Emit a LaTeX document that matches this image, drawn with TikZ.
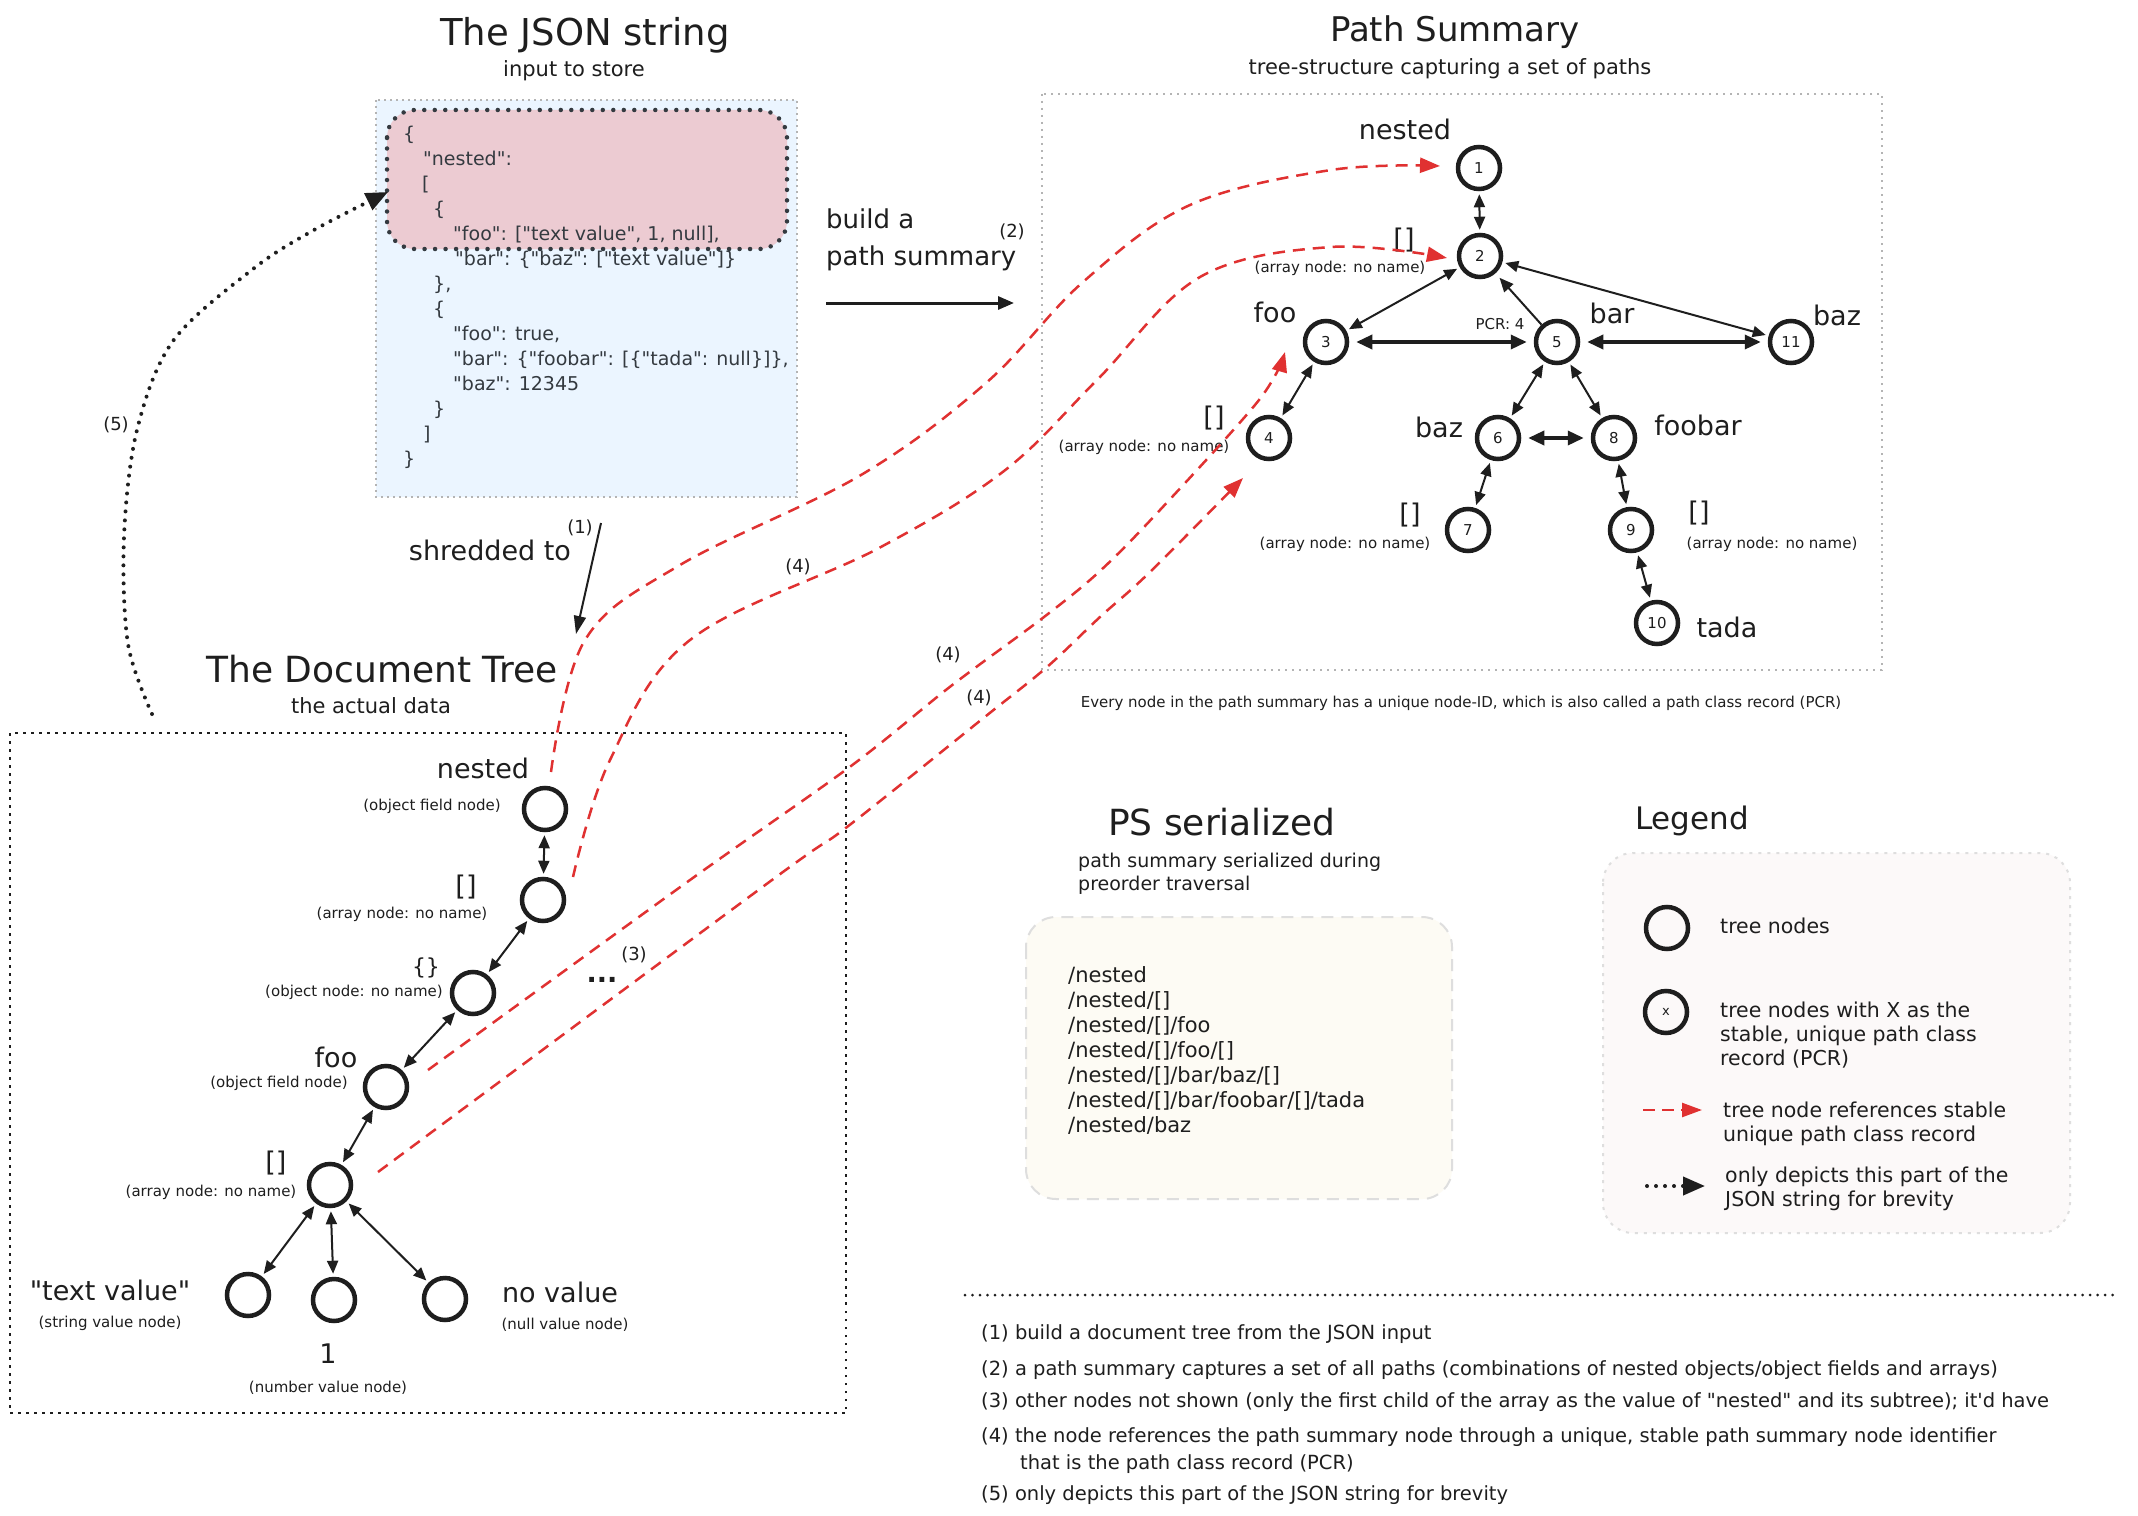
\documentclass[tikz,border=0pt]{standalone}
\usepackage{fontspec}
\setmainfont{DejaVu Sans}[Ligatures=TeXOff]
\usetikzlibrary{arrows.meta}
\definecolor{ink}{HTML}{1E1E1E}
\definecolor{jsonbg}{HTML}{EBF5FF}
\definecolor{pinkbg}{HTML}{ECCBD2}
\definecolor{slate}{HTML}{343A40}
\definecolor{boxgrey}{HTML}{B4B4B4}
\definecolor{refred}{HTML}{E03131}
\definecolor{creambg}{HTML}{FDFBF4}
\definecolor{legbg}{HTML}{FCF9F9}
\definecolor{lightline}{HTML}{DEDEDE}
\newcommand\fsz[2]{\fontsize{#1bp}{#2bp}\selectfont}
\tikzset{
  tn/.style={circle, draw=ink, line width=4.5bp, minimum size=42bp, inner sep=0pt, font=\fsz{15}{18}, text=ink},
  txt/.style={inner sep=0pt, text=ink},
  ttl/.style={txt, anchor=base, font=\fsz{36}{42}},
  subt/.style={txt, anchor=base, font=\fsz{21}{25}},
  biglbl/.style={txt, anchor=base, font=\fsz{27}{32}},
  brk/.style={txt, font=\fsz{27}{32}},
  smlbl/.style={txt, font=\fsz{15}{18}},
  reflbl/.style={txt, font=\fsz{18}{22}},
  tre/.style={draw=ink, line width=2bp, {Triangle[length=13bp,width=11bp]}-{Triangle[length=13bp,width=11bp]}, shorten <=3bp, shorten >=3bp},
  treT/.style={draw=ink, line width=3.5bp, {Triangle[length=16bp,width=14bp]}-{Triangle[length=16bp,width=14bp]}, shorten <=7bp, shorten >=7bp},
  onehead/.style={draw=ink, line width=2bp, -{Triangle[length=14bp,width=12bp]}},
  redref/.style={draw=refred, line width=2.5bp, dash pattern=on 12bp off 8bp, -{Triangle[length=20bp,width=15bp]}},
  dotref/.style={draw=ink, line width=4bp, line cap=round, dash pattern=on 0bp off 9bp, -{Triangle[length=22bp,width=18bp]}},
}
\begin{document}
\begin{tikzpicture}[x=1bp, y=-1bp]
\fill[white] (0,0) rectangle (2138,1516);
\useasboundingbox (0,0) rectangle (2138,1516);

% ---------------- boxes
\draw[draw=boxgrey, line width=1.5bp, dash pattern=on 2bp off 4bp, fill=jsonbg] (376,100) rectangle (797,497);
\draw[fill=pinkbg, draw=slate, line width=4.5bp, line cap=round, dash pattern=on 0bp off 10.5bp, rounded corners=28bp] (387,110) rectangle (787,249);
\draw[boxgrey, line width=2bp, dash pattern=on 2bp off 5bp] (1042,94) rectangle (1882,670);
\draw[ink, line width=2.5bp, dash pattern=on 2.5bp off 5.5bp] (10,733) rectangle (846,1413);
\draw[fill=creambg, draw=lightline, line width=2bp, dash pattern=on 12bp off 8bp, rounded corners=30bp] (1026,917) rectangle (1452,1199);
\draw[fill=legbg, draw=lightline, line width=2bp, dash pattern=on 3bp off 6bp, rounded corners=30bp] (1603,853) rectangle (2070,1233);
\draw[ink, line width=3bp, line cap=round, dash pattern=on 0bp off 7.5bp] (965,1295) -- (2120,1295);

% ---------------- titles
\node[ttl, font=\fsz{37}{42}] (tjson) at (585,46) {The JSON string};
\node[subt] (sjson) at (574,77) {input to store};
\node[ttl, font=\fsz{34}{40}] (tps) at (1455,42) {Path Summary};
\node[subt] (sps) at (1450,75) {tree-structure capturing a set of paths};
\node[ttl] (tdoc) at (382,682) {The Document Tree};
\node[subt] (sdoc) at (371,713) {the actual data};
\node[ttl] (tser) at (1222,835) {PS serialized};
\node[txt, anchor=north west, align=left, font=\fsz{19}{23}] (sser) at (1078,853) {path summary serialized during\\preorder traversal};
\node[ttl, font=\fsz{31}{36}] (tleg) at (1692,829) {Legend};

% ---------------- JSON text
\node[txt, anchor=north west, align=left, font=\fsz{19}{25}, text=slate] (jsontxt) at (403,125.5) {\{\\
\hspace*{20bp}"nested":\\
\hspace*{19bp}[\\
\hspace*{30bp}\{\\
\hspace*{50bp}"foo": ["text value", 1, null],\\
\hspace*{52bp}"bar": \{"baz": ["text value"]\}\\
\hspace*{30bp}\},\\
\hspace*{30bp}\{\\
\hspace*{50bp}"foo": true,\\
\hspace*{50bp}"bar": \{"foobar": [\{"tada": null\}]\},\\
\hspace*{50bp}"baz": 12345\\
\hspace*{30bp}\}\\
\hspace*{20bp}]\\
\}};

% ---------------- build / shred arrows
\node[txt, anchor=north west, align=left, font=\fsz{26}{37}] (bps) at (826,209) {build a\\path summary};
\node[reflbl] (n2lbl) at (1012,232) {(2)};
\coordinate (ba1) at (826,303);
\coordinate (ba2) at (1014,303);
\draw[draw=ink, line width=3bp, -{Triangle[length=16bp,width=13bp]}] (ba1) -- (ba2);
\node[biglbl] (shred) at (490,560) {shredded to};
\node[reflbl] (n1lbl) at (580,528) {(1)};
\coordinate (sa1) at (601,523);
\coordinate (sa2) at (576,634);
\draw[draw=ink, line width=2bp, -{Triangle[length=18bp,width=12bp]}] (sa1) -- (sa2);

% ---------------- path summary nodes
\node[tn] (ps1) at (1479,168) {1};
\node[tn] (ps2) at (1480,256) {2};
\node[tn] (ps3) at (1326,342) {3};
\node[tn] (ps4) at (1269,438) {4};
\node[tn] (ps5) at (1557,342) {5};
\node[tn] (ps6) at (1498,438) {6};
\node[tn] (ps7) at (1468,530) {7};
\node[tn] (ps8) at (1614,438) {8};
\node[tn] (ps9) at (1631,530) {9};
\node[tn] (ps10) at (1657,623) {10};
\node[tn] (ps11) at (1791,342) {11};

\node[biglbl] (lnested) at (1405,140) {nested};
\node[brk] (l2b) at (1404,240) {[]};
\node[smlbl] (l2a) at (1340,268) {(array node: no name)};
\node[biglbl] (lfoo) at (1275,322) {foo};
\node[smlbl] (lpcr) at (1500,324) {PCR: 4};
\node[biglbl] (lbar) at (1612,323) {bar};
\node[biglbl] (lbaz11) at (1837,325) {baz};
\node[brk] (l4b) at (1214,418) {[]};
\node[smlbl] (l4a) at (1144,447) {(array node: no name)};
\node[biglbl] (lbaz6) at (1439,437) {baz};
\node[biglbl] (lfoobar) at (1698,435) {foobar};
\node[brk] (l7b) at (1410,515) {[]};
\node[smlbl] (l7a) at (1345,544) {(array node: no name)};
\node[brk] (l9b) at (1699,513) {[]};
\node[smlbl] (l9a) at (1772,544) {(array node: no name)};
\node[biglbl] (ltada) at (1727,637) {tada};
\node[smlbl] (pcrnote) at (1461,703) {Every node in the path summary has a unique node-ID, which is also called a path class record (PCR)};

\draw[tre] (ps1) -- (ps2);
\draw[tre] (ps2) -- (ps3);
\draw[treT] (ps3) -- (ps5);
\draw[onehead, shorten >=6bp] (ps5) -- (ps2);
\draw[tre] (ps2) -- (ps11);
\draw[treT] (ps5) -- (ps11);
\draw[tre] (ps3) -- (ps4);
\draw[tre] (ps5) -- (ps6);
\draw[tre] (ps5) -- (ps8);
\draw[treT] (ps6) -- (ps8);
\draw[tre] (ps6) -- (ps7);
\draw[tre] (ps8) -- (ps9);
\draw[tre] (ps9) -- (ps10);

% ---------------- document tree
\node[tn] (dnest) at (545,809) {};
\node[tn] (darr) at (543,900) {};
\node[tn] (dobj) at (473,993) {};
\node[tn] (dfoo) at (386,1087) {};
\node[tn] (darr2) at (330,1185) {};
\node[tn] (dstr) at (248,1295) {};
\node[tn] (dnum) at (334,1300) {};
\node[tn] (dnull) at (445,1299) {};

\node[biglbl] (ldnest) at (483,778) {nested};
\node[smlbl] (ldnesta) at (432,806) {(object field node)};
\node[brk] (ldarrb) at (466,887) {[]};
\node[smlbl] (ldarra) at (402,914) {(array node: no name)};
\node[txt, font=\fsz{22}{26}] (ldobjb) at (426,968) {\{\}};
\node[smlbl] (ldobja) at (354,992) {(object node: no name)};
\node[biglbl] (ldfoo) at (336,1067) {foo};
\node[smlbl] (ldfooa) at (279,1083) {(object field node)};
\node[brk] (ldarr2b) at (276,1163) {[]};
\node[smlbl] (ldarr2a) at (211,1192) {(array node: no name)};
\node[biglbl] (ldstr) at (110,1300) {"text value"};
\node[smlbl] (ldstra) at (110,1323) {(string value node)};
\node[biglbl] (ldnum) at (328,1363) {1};
\node[smlbl] (ldnuma) at (328,1388) {(number value node)};
\node[biglbl] (ldnull) at (560,1302) {no value};
\node[smlbl] (ldnulla) at (565,1325) {(null value node)};
\node[txt, anchor=base, font=\bfseries\fsz{27}{32}] (ldots) at (602,982) {...};
\node[reflbl] (l3) at (634,955) {(3)};

\draw[tre] (dnest) -- (darr);
\draw[tre] (darr) -- (dobj);
\draw[tre] (dobj) -- (dfoo);
\draw[tre] (dfoo) -- (darr2);
\draw[tre] (darr2) -- (dstr);
\draw[tre] (darr2) -- (dnum);
\draw[tre] (darr2) -- (dnull);

% ---------------- references (4)
\coordinate (r1s) at (551,772);
\coordinate (r1e) at (1440,166);
\coordinate (r2s) at (573,877);
\coordinate (r2e) at (1447,258);
\coordinate (r3s) at (428,1070);
\coordinate (r3e) at (1285,352);
\coordinate (r4s) at (378,1172);
\coordinate (r4e) at (1243,478);
\draw[redref] plot[smooth, tension=0.6] coordinates {(r1s) (585,640) (680,565) (861,475) (986,383) (1083,282) (1190,205) (1331,170) (r1e)};
\draw[redref] plot[smooth, tension=0.6] coordinates {(r2s) (610,760) (690,640) (879,548) (1004,471) (1097,380) (1200,277) (1331,247) (r2e)};
\draw[redref] plot[smooth, tension=0.55] coordinates {(r3s) (690,880) (851,766) (951,686) (1044,617) (1100,571) (1160,510) (1259,400) (r3e)};
\draw[redref] plot[smooth, tension=0.55] coordinates {(r4s) (772,880) (847,827) (986,716) (1047,667) (1100,617) (1150,572) (r4e)};
\node[reflbl] (l4n1) at (798,567) {(4)};
\node[reflbl] (l4n2) at (948,655) {(4)};
\node[reflbl] (l4n3) at (979,698) {(4)};

% ---------------- reference (5)
\coordinate (r5s) at (152,714);
\coordinate (r5e) at (388,192);
\draw[dotref] plot[smooth, tension=0.55] coordinates {(r5s) (128,644) (124,537) (137,430) (173,341) (253,269) (314,230) (r5e)};
\node[reflbl] (l5) at (116,425) {(5)};

% ---------------- PS serialized list
\node[txt, anchor=north west, align=left, font=\fsz{21}{25}] (serlist) at (1068,966) {/nested\\/nested/[]\\/nested/[]/foo\\/nested/[]/foo/[]\\/nested/[]/bar/baz/[]\\/nested/[]/bar/foobar/[]/tada\\/nested/baz};

% ---------------- legend
\node[tn] (lg1) at (1667,928) {};
\node[tn, font=\fsz{13}{15}] (lg2) at (1666,1012) {x};
\node[txt, anchor=base west, font=\fsz{20.5}{24}] (lgt1) at (1720,933) {tree nodes};
\node[txt, anchor=north west, align=left, font=\fsz{20.5}{24}] (lgt2) at (1720,1001.5) {tree nodes with X as the\\stable, unique path class\\record (PCR)};
\coordinate (lr1) at (1643,1110);
\coordinate (lr2) at (1702,1110);
\draw[draw=refred, line width=2.5bp, dash pattern=on 12bp off 7bp, -{Triangle[length=20bp,width=14bp]}] (lr1) -- (lr2);
\node[txt, anchor=north west, align=left, font=\fsz{20.5}{24}] (lgt3) at (1723,1101.5) {tree node references stable\\unique path class record};
\coordinate (ld1) at (1647,1186);
\coordinate (ld2) at (1705,1186);
\draw[dotref] (ld1) -- (ld2);
\node[txt, anchor=north west, align=left, font=\fsz{20.5}{24}] (lgt4) at (1725,1166.5) {only depicts this part of the\\JSON string for brevity};

% ---------------- notes
\node[txt, anchor=base west, font=\fsz{19.5}{23}] (nt1) at (981,1339) {(1) build a document tree from the JSON input};
\node[txt, anchor=base west, font=\fsz{19.5}{23}] (nt2) at (981,1375) {(2) a path summary captures a set of all paths (combinations of nested objects/object fields and arrays)};
\node[txt, anchor=base west, font=\fsz{19.5}{23}] (nt3) at (981,1407) {(3) other nodes not shown (only the first child of the array as the value of "nested" and its subtree); it'd have};
\node[txt, anchor=base west, font=\fsz{19.5}{23}] (nt4) at (981,1442) {(4) the node references the path summary node through a unique, stable path summary node identifier};
\node[txt, anchor=base west, font=\fsz{19.5}{23}] (nt4b) at (1020,1469) {that is the path class record (PCR)};
\node[txt, anchor=base west, font=\fsz{19.5}{23}] (nt5) at (981,1500) {(5) only depicts this part of the JSON string for brevity};
\end{tikzpicture}
\end{document}
